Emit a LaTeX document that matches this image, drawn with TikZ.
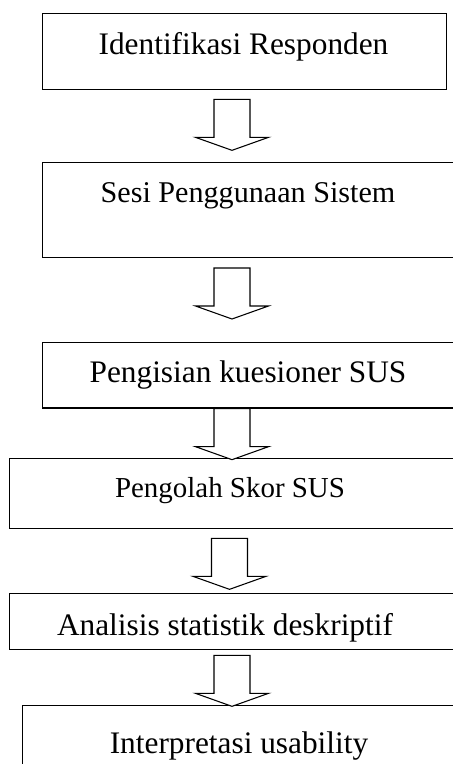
\documentclass[tikz,border=0pt]{standalone}
\usepackage{fontspec}
\setmainfont{Liberation Serif}
\usetikzlibrary{positioning, calc}

\tikzset{
  box/.style={draw=black, line width=1pt, inner sep=0pt},
  txt/.style={anchor=base, inner sep=0pt, font=\fontsize{23.5}{26}\selectfont},
  downarr/.pic={
    \draw[line width=0.8pt, fill=white] (-18,0) -- (18,0) -- (18,38) -- (36.5,38)
      -- (0,51) -- (-36.5,38) -- (-18,38) -- cycle;
  }
}

\begin{document}
\begin{tikzpicture}[x=0.75pt, y=-0.75pt]
    \useasboundingbox (0,0) rectangle (453,764);
    \clip (0,0) rectangle (453,764);
    \coordinate (axis) at (232,0);
    % langkah-langkah
    \node[box, anchor=north west, minimum width=303pt, minimum height=57pt] (b1) at (42,13) {};
    \node[box, anchor=north west, minimum width=330pt, minimum height=71pt] (b2) at (42,162) {};
    \node[box, anchor=north west, minimum width=330pt, minimum height=49pt] (b3) at (42,342) {};
    \node[box, anchor=north west, minimum width=355pt, minimum height=52.5pt] (b4) at (9,458) {};
    \node[box, anchor=north west, minimum width=355pt, minimum height=42pt] (b5) at (9,593) {};
    \node[box, anchor=north west, minimum width=345pt, minimum height=60pt] (b6) at (22,705) {};
    \node[txt] (t1) at (243.5,54) {Identifikasi Responden};
    \node[txt, font=\fontsize{22.6}{25}\selectfont] (t2) at (248,202) {Sesi Penggunaan Sistem};
    \node[txt] (t3) at (248,382) {Pengisian kuesioner SUS};
    \node[txt, font=\fontsize{21.7}{24}\selectfont] (t4) at (230,497) {Pengolah Skor SUS};
    \node[txt] (t5) at (225,635) {Analisis statistik deskriptif};
    \node[txt] (t6) at (239,753) {Interpretasi usability};
    % panah
    \path (b1.south -| axis) ++(0,9) pic {downarr};
    \path (b2.south -| axis) ++(0,10) pic {downarr};
    \path (b3.south -| axis) pic {downarr};
    \path (b4.south -| axis) ++(-2.5,9) pic {downarr};
    \path (b5.south -| axis) ++(0,5) pic {downarr};
\end{tikzpicture}
\end{document}
